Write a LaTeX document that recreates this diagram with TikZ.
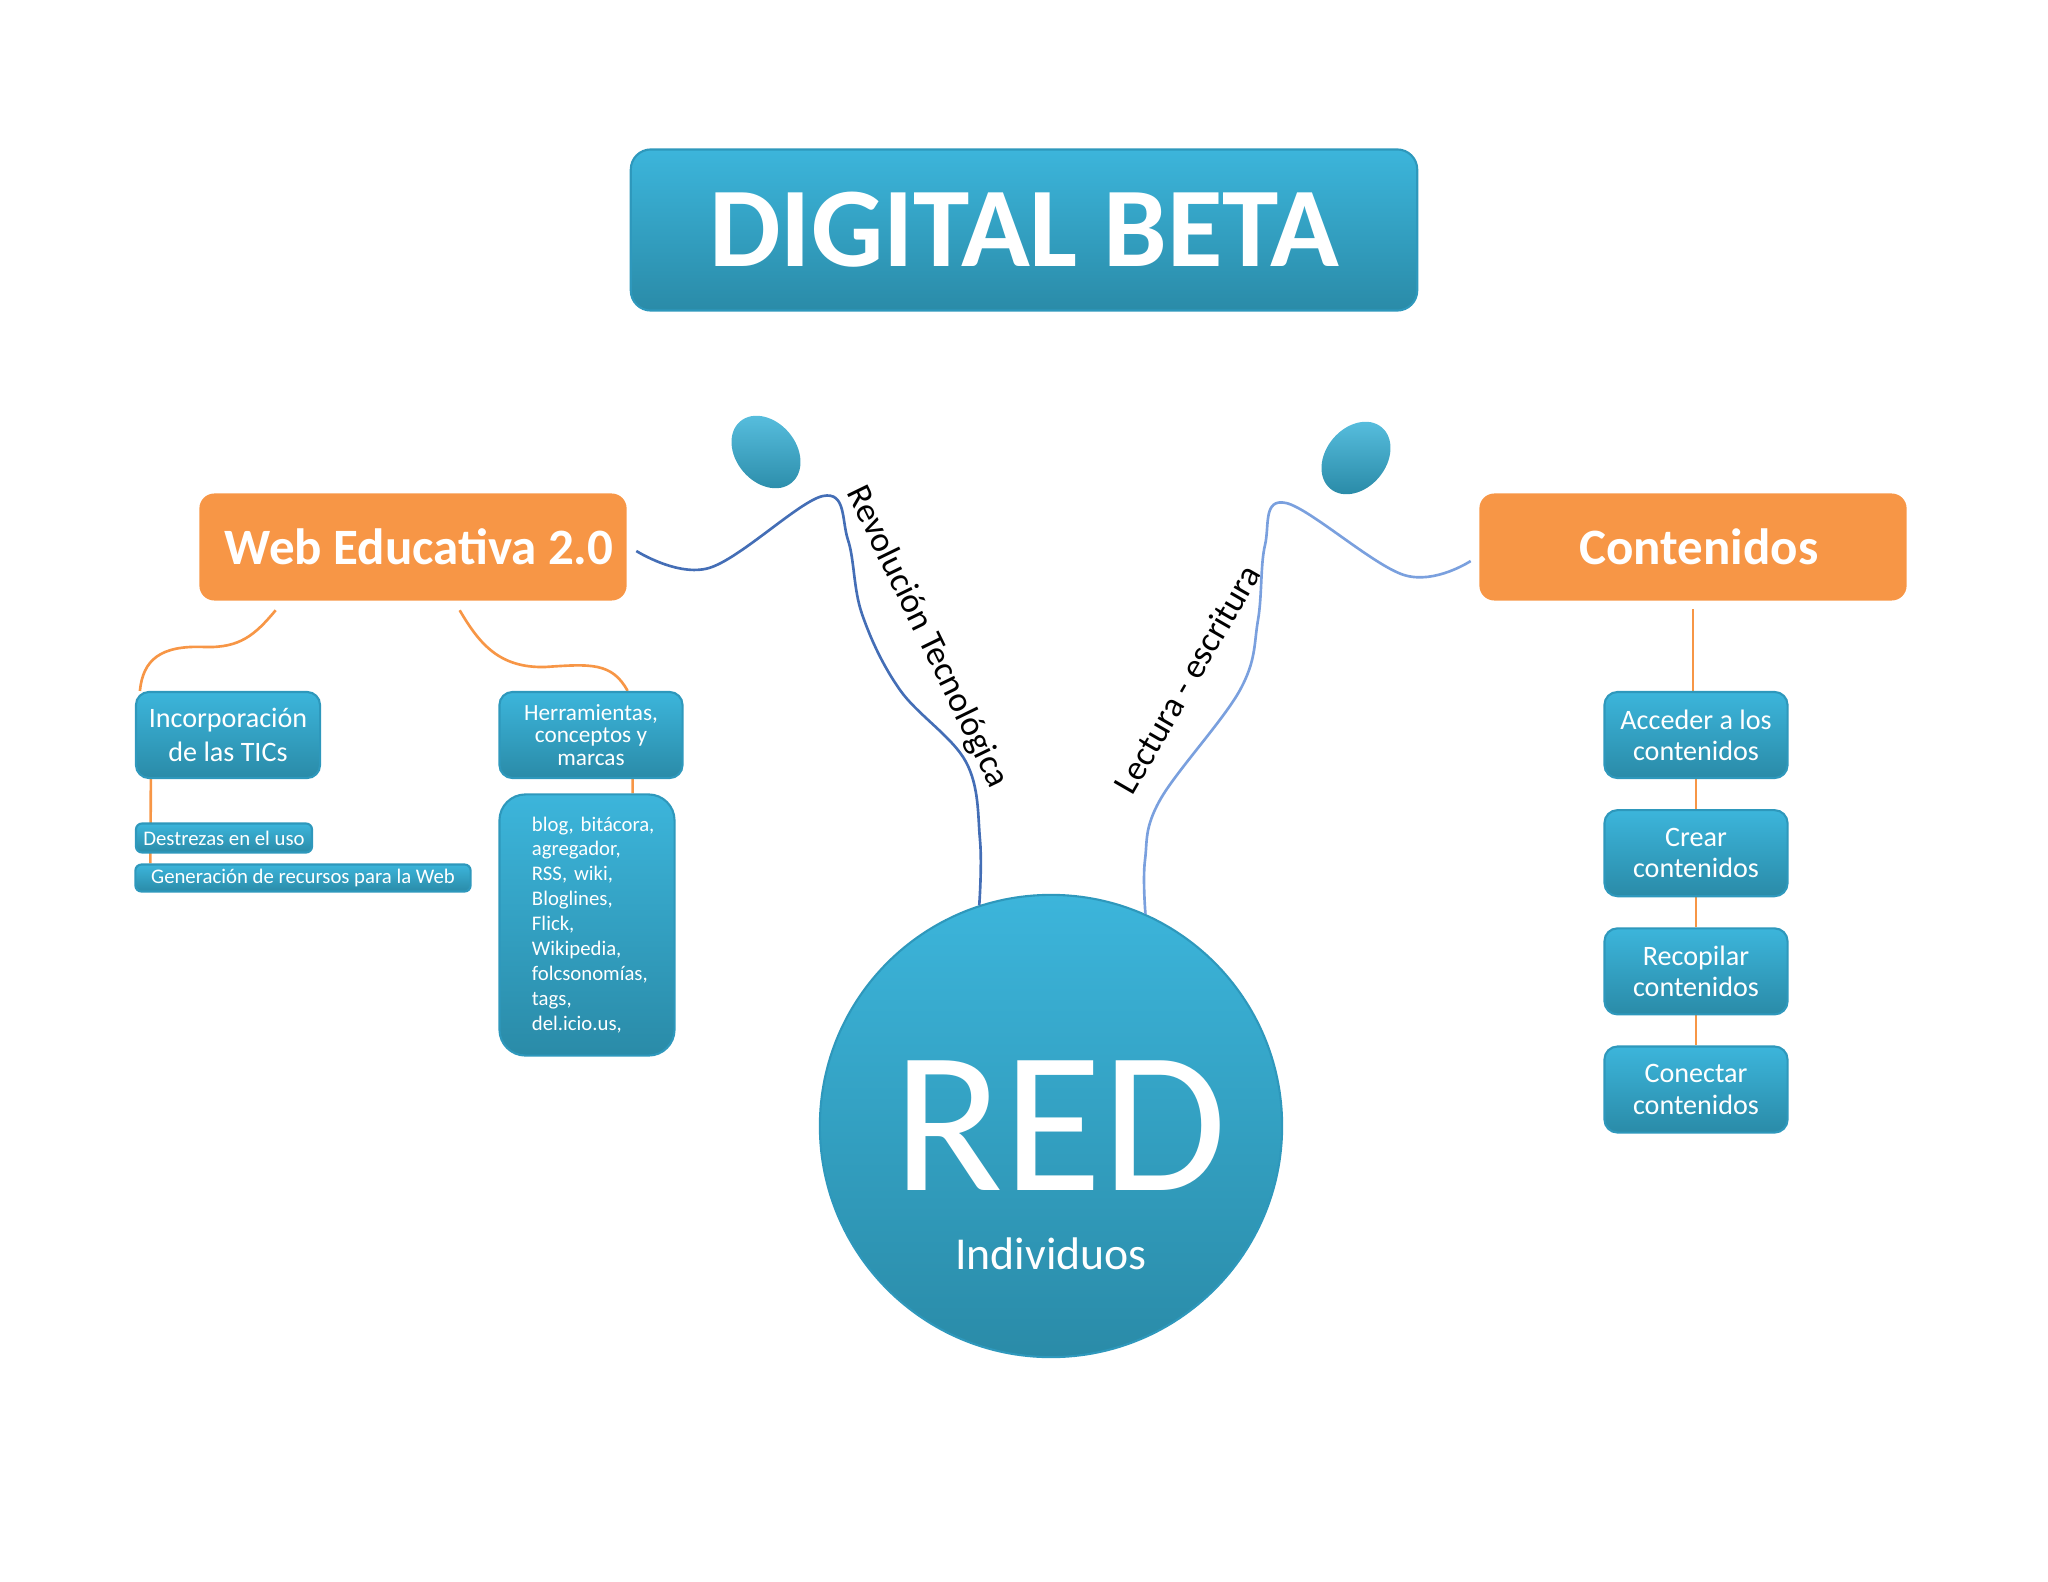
\documentclass[tikz,border=0pt]{standalone}
\usepackage{fontspec}
\setmainfont{Carlito}
\usetikzlibrary{positioning,shapes.geometric,backgrounds,calc}
\definecolor{dbteal}{RGB}{60,181,219}
\definecolor{dbtealdark}{RGB}{42,139,168}
\definecolor{dbedge}{RGB}{46,152,188}
\definecolor{dborange}{RGB}{247,150,70}
\definecolor{dbwave}{RGB}{68,110,182}
\definecolor{dbwavelight}{RGB}{122,160,222}

\begin{document}
\begin{tikzpicture}[x=0.01cm,y=-0.01cm,
  tealbox/.style={draw=dbedge,line width=0.6pt,top color=dbteal,bottom color=dbtealdark,
              rounded corners=0.13cm,text=white,align=center,inner sep=2pt},
  headbox/.style={fill=dborange,rounded corners=0.15cm,text=white,
              font=\bfseries\fontsize{14.5}{17}\selectfont,
              minimum width=4.27cm,minimum height=1.07cm},
  tagbox/.style={tealbox,rounded corners=0.06cm,font=\fontsize{5.9}{7}\selectfont,inner sep=0pt},
  stepbox/.style={tealbox,minimum width=1.83cm,minimum height=0.86cm,
              font=\fontsize{8}{8.9}\selectfont},
  blob/.style={ellipse,top color=dbteal!85!white,bottom color=dbtealdark,
              minimum width=0.60cm,minimum height=0.80cm,inner sep=0pt},
  branch/.style={draw=dborange,line width=0.75pt},
  wave/.style={draw=dbwave,line width=0.75pt},
  wavetext/.style={font=\fontsize{10}{12}\selectfont}
]
  \useasboundingbox (0,0) rectangle (2048,1582);

  \node[tealbox,rounded corners=0.2cm,minimum width=7.86cm,minimum height=1.61cm,
        font=\bfseries\fontsize{32.3}{36}\selectfont] (title) at (1024,230) {DIGITAL BETA};

  \node[headbox] (web)  at (413,547) {\hspace*{0.12cm}Web Educativa 2.0};
  \node[headbox] (cont) at (1693,547) {\hspace*{0.12cm}Contenidos};

  \node[blob,rotate=40]  (blobl) at (766,452) {};
  \node[blob,rotate=-40] (blobr) at (1356,458) {};

  \node[circle,draw=dbedge,line width=0.6pt,top color=dbteal,bottom color=dbtealdark,
        minimum size=4.62cm,inner sep=0pt,text=white,
        font=\fontsize{57.5}{60}\selectfont] (red) at (1051,1126) {\hspace*{0.18cm}RED};
  \node[text=white,font=\fontsize{13}{15}\selectfont] (indiv) at ($(red.center)+(0,128)$) {Individuos};

  % rama izquierda
  \node[tealbox,minimum width=1.84cm,minimum height=0.86cm,
        font=\fontsize{8}{9.6}\selectfont] (incorp) at (228,735) {Incorporación\\de las TICs};
  \node[tealbox,minimum width=1.83cm,minimum height=0.86cm,
        font=\fontsize{6.6}{6.4}\selectfont] (herr) at (591,735) {Herramientas,\\conceptos y\\marcas};
  \node[tealbox,rounded corners=0.26cm,minimum width=1.75cm,minimum height=2.61cm,
        text width=1.1cm,align=left,font=\fontsize{5.9}{7.1}\selectfont] (items) at (587,925)
        {\mbox{blog, bitácora,}\\agregador,\\RSS, wiki,\\Bloglines,\\Flick,\\Wikipedia,\\\mbox{folcsonomías,}\\tags,\\del.icio.us,};
  \node[tagbox,minimum width=1.76cm,minimum height=0.29cm] (destr) at (224,838) {Destrezas en el uso};
  \node[tagbox,minimum width=3.35cm,minimum height=0.27cm] (gener) at (303,878) {Generación de recursos para la Web};

  % rama derecha
  \node[stepbox] (acceder) at (1696,735) {Acceder a los\\contenidos};
  \node[stepbox,below=0.3cm of acceder] (crear) {Crear\\contenidos};
  \node[stepbox,below=0.3cm of crear] (recop) {Recopilar\\contenidos};
  \node[stepbox,below=0.3cm of recop] (conect) {Conectar\\contenidos};

  % textos de las ondas
  \node[wavetext,rotate=-64] (revol) at (927,637) {Revolución Tecnológica};
  \node[wavetext,rotate=60] (lectu) at (1187,679) {Lectura - escritura};

  \coordinate (wlstart) at ($(web.east)+(9,4)$);
  \coordinate (wrstart) at ($(cont.west)+(-8,14)$);

  \begin{scope}[on background layer]
    \draw[branch] ($(web.south west)+(77,9)$) .. controls (255,635) and (240,648) .. (205,647)
                  .. controls (160,645) and (143,660) .. ($(incorp.north west)+(5,0)$);
    \draw[branch] ($(web.south west)+(261,9)$) .. controls (480,645) and (500,668) .. (545,667)
                  .. controls (590,664) and (612,662) .. ($(herr.north east)+(-56,0)$);
    \draw[branch] ($(incorp.south west)+(16,0)$) -- ($(gener.north west)+(16,0)$);
    \draw[branch] ($(herr.south east)+(-51,0)$) -- ($(items.north east)+(-43,0)$);
    \draw[branch] ($(cont.south)+(0,8)$) -- (cont.south |- acceder.north);
    \draw[branch] (acceder) -- (crear);
    \draw[branch] (crear) -- (recop);
    \draw[branch] (recop) -- (conect);
  \end{scope}

  \draw[wave] plot[smooth,tension=0.6] coordinates {(wlstart) (709,568) (823,496) (848,540)
        (862,614) (900,690) (966,762) (980,840) (red.108)};
  \draw[wave,draw=dbwavelight] plot[smooth,tension=0.6] coordinates {(wrstart) (1404,575) (1286,503)
        (1265,545) (1258,620) (1240,690) (1160,800) (1145,860) (red.66)};
\end{tikzpicture}
\end{document}
